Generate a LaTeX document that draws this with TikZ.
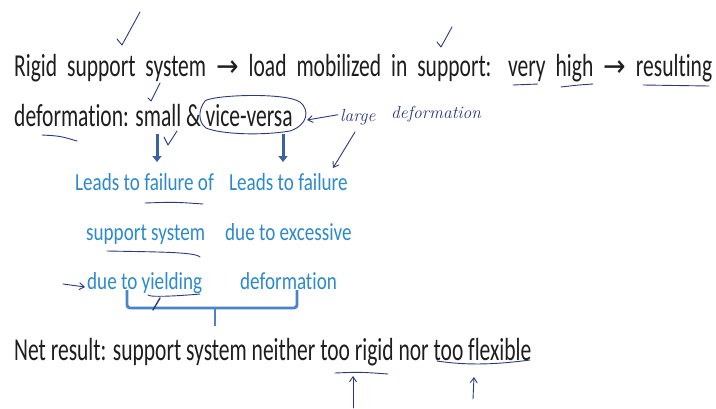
\documentclass[tikz,border=0pt]{standalone}
\usepackage{fontspec}
\setmainfont{Carlito}
\newfontfamily\slide[FakeStretch=0.673,Ligatures=NoCommon]{Carlito}
\newfontfamily\bslide[FakeStretch=0.78,Ligatures=NoCommon]{Carlito}
\newfontfamily\arrowfont[FakeStretch=0.9]{DejaVu Sans}
\newfontfamily\hand{Latin Modern Roman}
\usetikzlibrary{arrows.meta}
\definecolor{txt}{HTML}{1E1E1E}
\definecolor{bluetxt}{HTML}{2C8ACB}
\definecolor{ink}{HTML}{2B3A7E}
\definecolor{thickarrow}{HTML}{3A62A0}
\definecolor{bracketc}{HTML}{4A84C8}
\tikzset{
  blk/.style={anchor=base west, inner sep=0pt, text=txt, font=\slide\fontsize{32}{34}\selectfont},
  blu/.style={anchor=base west, inner sep=0pt, text=bluetxt, font=\bslide\fontsize{24.5}{28}\selectfont},
  handtxt/.style={anchor=base west, inner sep=0pt, text=ink, font=\hand\itshape\fontsize{17.5}{20}\selectfont},
  pen/.style={draw=ink, line width=0.9pt, line cap=round, line join=round},
  penarrow/.style={pen, -{Straight Barb[length=5pt,width=7pt]}},
  fatarrow/.style={draw=thickarrow, line width=3pt, -{Triangle[length=6pt,width=9pt]}},
  bracketline/.style={draw=bracketc, line width=2.8pt, rounded corners=3pt},
}
\newcommand{\rarr}{{\arrowfont\fontsize{30}{30}\selectfont\raisebox{0pt}{→}}}
\begin{document}
\begin{tikzpicture}[x=1pt,y=-1pt]
\useasboundingbox (0,0) rectangle (716,408);
\fill[white] (0,0) rectangle (716,408);
% printed text
\node[blk] (l1) at (14,76) {\makebox[698pt][s]{Rigid support system \rarr\ load mobilized in support: very high \rarr\ resulting}};
\node[blk] (l2) at (14,126) {deformation: small \& vice-versa};
\node[blu] (b1a) at (75,190) {Leads to failure of};
\node[blu] (b1b) at (229,190) {Leads to failure};
\node[blu] (b2a) at (86,240) {support system};
\node[blu] (b2b) at (225,240) {due to excessive};
\node[blu] (b3a) at (87,289) {due to yielding};
\node[blu] (b3b) at (240,289) {deformation};
\node[blk] (net) at (14,360) {Net result: support system neither too rigid nor too flexible};
% thick arrows
\coordinate (fa1s) at (157,134); \coordinate (fa1e) at (157,162);
\coordinate (fa2s) at (283,134); \coordinate (fa2e) at (283,162);
\draw[fatarrow] (fa1s) -- (fa1e);
\draw[fatarrow] (fa2s) -- (fa2e);
% bracket
\coordinate (brl) at (127,290); \coordinate (brr) at (297,290);
\coordinate (brm) at (215,308); \coordinate (brt) at (215,326);
\draw[bracketline] (brl) |- (brm) -| (brr);
\draw[draw=bracketc, line width=2.8pt] (brm) -- (brt);
% handwritten annotations
\draw[pen] (117,39) -- (122,45) -- (140,12);
\draw[pen] (437,42) -- (441,47) -- (452,27);
\draw[pen] (148,98) -- (151,101) -- (160,83);
\draw[pen] (164,137) -- (168,145) -- (177,131);
\draw[pen] (513,85) .. controls (525,84) .. (538,84);
\draw[pen] (561,87) .. controls (578,85) .. (593,84);
\draw[pen] (643,85) .. controls (676,86) .. (709,86);
\draw[pen] (42,135) .. controls (60,136) .. (77,141);
\draw[pen] (205,101) .. controls (212,95) and (285,92) .. (300,102)
  .. controls (310,110) and (308,125) .. (290,131)
  .. controls (260,136) and (220,134) .. (206,128)
  .. controls (198,122) and (198,110) .. (205,101);
\node[handtxt] (large) at (340,121) {large};
\node[handtxt] (deform) at (391,118) {deformation};
\coordinate (lge) at (307,120);
\draw[penarrow] (large.west) ++(-2,-2) -- (lge);
\coordinate (ld1) at (355,132); \coordinate (ld2) at (333,168);
\draw[penarrow] (ld1) -- (ld2);
\draw[pen] (145,203) .. controls (175,202) .. (203,204);
\draw[pen] (107,251) .. controls (160,252) and (195,252) .. (200,257);
\coordinate (dy1) at (63,284); \coordinate (dy2) at (85,287);
\draw[penarrow] (dy1) -- (dy2);
\draw[pen] (148,295) .. controls (150,298) and (190,295) .. (200,294);
\draw[pen, line width=1.4pt] (160,298) -- (153,310);
\draw[pen] (335,373) .. controls (360,372) .. (388,374);
\coordinate (tr1) at (353,408); \coordinate (tr2) at (353,376);
\draw[penarrow] (tr1) -- (tr2);
\draw[pen] (437,361) .. controls (470,366) and (500,364) .. (530,360);
\coordinate (tf1) at (473,399); \coordinate (tf2) at (474,377);
\draw[penarrow] (tf1) -- (tf2);
\end{tikzpicture}
\end{document}
